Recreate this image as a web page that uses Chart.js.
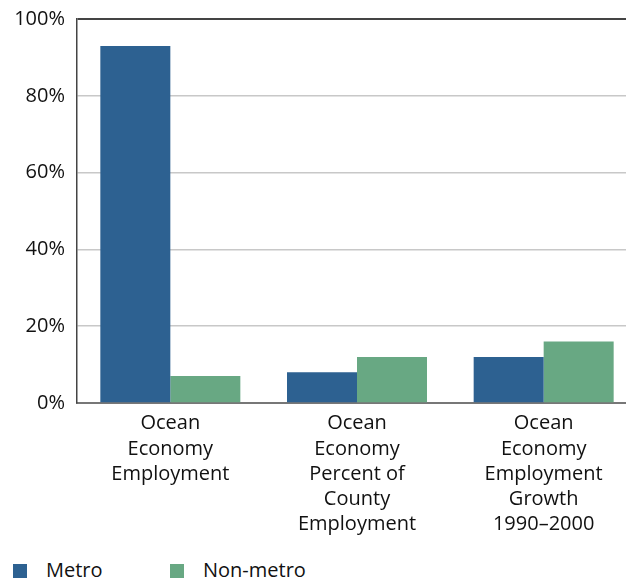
<!DOCTYPE html>
<html>
<head>
<meta charset="utf-8">
<script src="https://cdn.jsdelivr.net/npm/chart.js@4"></script>
<style>
  body { margin: 0; width: 626px; height: 580px; overflow: hidden; background: #fff; font-family: "Open Sans", sans-serif; }
  #wrap { position: absolute; left: 0; top: -5px; width: 637px; height: 545px; }
  #legend { position: absolute; left: 0; top: 558px; width: 626px; height: 24px; }
  .item { position: absolute; top: 0; font-size: 20px; color: #111; line-height: 24px; }
  .box { position: absolute; top: 6px; width: 14px; height: 14px; }
</style>
</head>
<body>
<div id="wrap"><canvas id="grafico"></canvas></div>
<div id="legend"></div>
<script>
var categorias = [
    ["Ocean", "Economy", "Employment"],
    ["Ocean", "Economy", "Percent of", "County", "Employment"],
    ["Ocean", "Economy", "Employment", "Growth", "1990\u20132000"]
];
var metro = [93, 8, 12];
var naoMetro = [7, 12, 16];
var series = ["Metro", "Non-metro"];
var cores = ['#2d6191', '#68a883'];
var ticksY = [0, 20, 40, 60, 80, 100];

var ctx = document.getElementById('grafico').getContext('2d');
var chart = new Chart(ctx, {
    type: 'bar',
    data: {
        labels: categorias,
        datasets: [{
            label: series[0],
            data: metro,
            backgroundColor: cores[0],
            categoryPercentage: 0.75,
            barPercentage: 1
        }, {
            label: series[1],
            data: naoMetro,
            backgroundColor: cores[1],
            categoryPercentage: 0.75,
            barPercentage: 1
        }]
    },
    options: {
        responsive: true,
        maintainAspectRatio: false,
        animation: false,
        layout: { padding: { top: 12, left: 0, right: 0, bottom: 0 } },
        plugins: {
            legend: { display: false },
            tooltip: { enabled: false }
        },
        scales: {
            x: {
                grid: { display: false },
                border: { color: '#777', width: 2 },
                ticks: {
                    color: '#111',
                    font: { family: 'Open Sans', size: 20, lineHeight: 1.26 },
                    padding: 0,
                    maxRotation: 0,
                    autoSkip: false
                },
                afterFit: function (s) { s.height = 137; }
            },
            y: {
                min: 0,
                max: 100,
                afterBuildTicks: function (s) {
                    s.ticks = ticksY.map(function (v) { return { value: v }; });
                },
                grid: {
                    drawTicks: false,
                    color: function (c) {
                        if (c.tick && c.tick.value === 100) return '#444';
                        if (c.tick && c.tick.value === 0) return '#777';
                        return '#c8c8c8';
                    },
                    lineWidth: function (c) {
                        return (c.tick && c.tick.value === 100) ? 2 : 1.5;
                    }
                },
                border: { color: '#444', width: 1.5 },
                ticks: {
                    color: '#111',
                    font: { family: 'Open Sans', size: 20 },
                    padding: 12,
                    callback: function (v) { return v + '%'; }
                },
                afterFit: function (s) { s.width = 77; }
            }
        }
    }
});

// legenda em html
var leg = document.getElementById('legend');
var posX = [13, 170];
series.forEach(function (nome, i) {
    var b = document.createElement('div');
    b.className = 'box';
    b.style.left = posX[i] + 'px';
    b.style.background = cores[i];
    leg.appendChild(b);
    var t = document.createElement('div');
    t.className = 'item';
    t.style.left = (posX[i] + 33) + 'px';
    t.textContent = nome;
    leg.appendChild(t);
});
</script>
</body>
</html>
